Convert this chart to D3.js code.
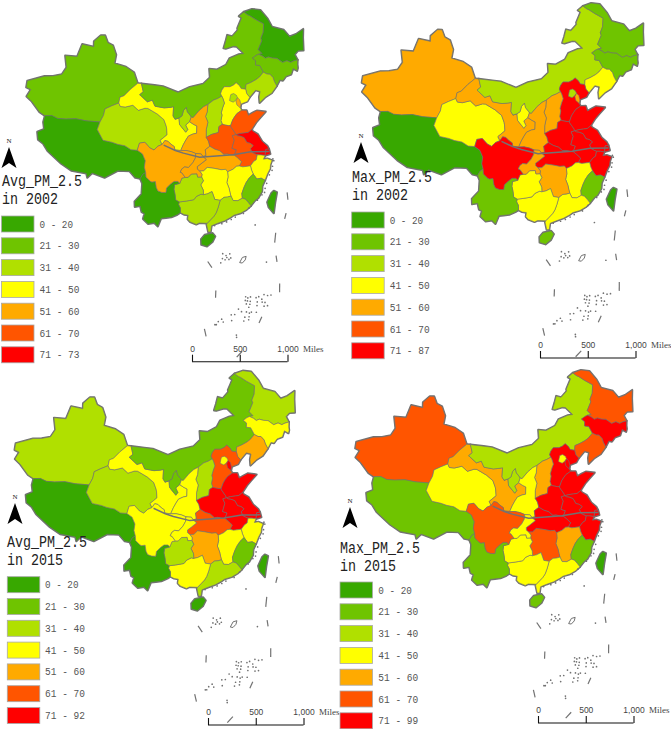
<!DOCTYPE html>
<html>
<head>
<meta charset="utf-8">
<style>
  html, body { margin: 0; padding: 0; background: #fff; }
  svg { display: block; }
</style>
<script src="https://cdn.jsdelivr.net/npm/d3@7"></script>
</head>
<body>
<div id="chart"></div>
<script>
// provinces, same order in every value list below
const provinceNames = ["Xinjiang", "Tibet", "Qinghai", "Gansu", "Ningxia", "InnerMongolia", "Heilongjiang", "Jilin", "Liaoning", "Hebei", "Beijing", "Tianjin", "Shanxi", "Shaanxi", "Henan", "Shandong", "Jiangsu", "Shanghai", "Anhui", "Hubei", "Zhejiang", "Jiangxi", "Hunan", "Fujian", "Guangdong", "Guangxi", "Guizhou", "Yunnan", "Sichuan", "Chongqing", "Hainan", "Taiwan"];

// PM2.5 per province, estimated from the class colour on the map
const avg2002 = [25, 15, 35, 45, 35, 25, 15, 25, 35, 45, 35, 55, 35, 55, 65, 65, 72, 72, 65, 55, 45, 45, 45, 25, 35, 35, 35, 15, 55, 55, 15, 15];
const max2002 = [55, 15, 45, 55, 45, 35, 25, 25, 45, 80, 35, 55, 55, 55, 80, 80, 80, 80, 80, 80, 80, 45, 55, 25, 45, 45, 45, 25, 80, 55, 25, 15];
const avg2015 = [35, 15, 35, 45, 25, 25, 35, 45, 55, 65, 45, 80, 35, 45, 80, 80, 80, 80, 80, 65, 45, 45, 55, 25, 35, 45, 35, 15, 45, 45, 15, 15];
const max2015 = [65, 25, 45, 55, 35, 35, 65, 80, 65, 80, 45, 80, 55, 45, 80, 80, 80, 80, 80, 80, 80, 55, 65, 25, 45, 45, 45, 25, 65, 45, 25, 15];

const classBreaks = [21, 31, 41, 51, 61, 71];
const classColors = ["#38a800", "#6fc400", "#b0e000", "#ffff00", "#ffaa00", "#ff5500", "#ff0000"];
const classLabels = ["0 - 20", "21 - 30", "31 - 40", "41 - 50", "51 - 60", "61 - 70"];
const scaleTicks = [0, 500, 1000];

// province outlines, lon/lat
const provinceRings = {
  Xinjiang: [[87.8,49.2],[88.7,48.2],[90,47.9],[91,46.6],[90.9,45.3],[93.5,45],[95.4,44.3],[96.4,42.7],[95,41.7],[93.8,40.6],[93,40.3],[92.9,39.4],[91.5,38.8],[90.3,38.2],[90.2,37.2],[89.7,36.1],[87,35.9],[85,35.9],[83,35.5],[81.5,35.3],[80.3,35.5],[79,35.2],[77.8,35.5],[75.8,36.7],[74.5,37.2],[74.9,38.4],[73.9,38.5],[73.7,39.5],[76.8,41],[78.5,41.4],[80.2,42],[80.8,43.2],[79.9,44.9],[82.5,45.2],[83,47.2],[85.7,47.2],[85.5,48],[86.8,49.1]],
  Tibet: [[79,35.2],[80.3,35.5],[81.5,35.3],[83,35.5],[85,35.9],[87,35.9],[89.7,36.1],[89.4,34.9],[90.8,33.4],[92.5,33.3],[93.6,33.1],[95,33],[96.2,32.5],[97.4,32.5],[98.4,32],[99,31],[98.9,30],[99.2,29.2],[98.7,28.9],[98.3,28.2],[97.4,28.3],[96.3,29.2],[94.2,29.1],[92,27.8],[89.7,28.2],[89,27.4],[88.7,28],[86,28],[84,28.7],[81.1,30.1],[80,31],[78.9,31.4],[78.4,32.5],[79.5,33.2],[79,34.2]],
  Qinghai: [[89.7,36.1],[90.2,37.2],[90.3,38.2],[91.5,38.8],[92.9,39.4],[93.3,38.9],[94.3,38.9],[95.8,39.3],[97,38.6],[98.3,39],[98.9,39],[100.9,38.2],[102.2,37.4],[102.7,36.4],[102.8,36],[102.9,35.1],[101.6,34.2],[102,33.6],[101.2,33.3],[100.5,32.7],[99.7,33],[98.7,33.8],[97.7,33.6],[97.4,32.5],[96.2,32.5],[95,33],[93.6,33.1],[92.5,33.3],[90.8,33.4],[89.4,34.9]],
  Gansu: [[92.9,39.4],[93,40.3],[93.8,40.6],[95,41.7],[96.4,42.7],[97.2,42.7],[97.7,41.5],[97,41],[98.7,40],[99.7,40.3],[100.3,39.4],[102.2,39.2],[103.4,39.3],[104.1,39.4],[104,38],[104.4,37.5],[105.2,37.7],[105.3,36.7],[106,36],[106.5,35.5],[106.9,35.9],[106.5,36.6],[107.3,37.1],[108,36.7],[108.7,36.4],[108.6,35.3],[107.9,35.2],[107,34.9],[106.5,34.3],[106,33.6],[105.5,32.7],[104.4,32.8],[104.3,33.3],[103.6,33.7],[103.1,34.1],[102.5,34.2],[102,33.6],[101.6,34.2],[102.9,35.1],[102.8,36],[102.7,36.4],[102.2,37.4],[100.9,38.2],[98.9,39],[98.3,39],[97,38.6],[95.8,39.3],[94.3,38.9],[93.3,38.9]],
  Ningxia: [[104.4,37.5],[105.2,37.7],[105.8,38],[106.1,38.8],[106.7,39.3],[106.9,38.6],[107.5,38],[107.65,37.8],[107.3,37.1],[106.5,36.6],[106.9,35.9],[106.5,35.5],[106,36],[105.3,36.7],[105.2,37.7]],
  InnerMongolia: [[116.7,49.8],[117.8,49.5],[119.3,50.3],[119.3,50.6],[120.1,51.4],[120.7,52],[120.1,52.3],[121.5,52.8],[122.3,52.3],[122.8,52.1],[124,51.4],[125.7,50.5],[125.2,49.3],[124.4,48.5],[124.5,48.1],[123.3,46.9],[124,46.2],[123.2,46.2],[122.6,46.1],[121.7,45.8],[122.3,45.3],[122.1,44.7],[123,44.5],[123.5,43.4],[122.5,42.8],[121.7,42.5],[120.5,42.2],[119.4,42],[119.2,41.3],[118.3,41.5],[118,42],[117.4,42.5],[116.8,42.2],[116,42],[114.8,42.1],[114.2,41.6],[113.9,41.1],[114.1,40.7],[113.2,40.4],[112.3,40.2],[111.1,39.6],[110.2,39.3],[109.2,38.7],[108,37.7],[107.65,37.8],[107.5,38],[106.9,38.6],[106.7,39.3],[106.1,38.8],[105.8,38],[105.2,37.7],[104.4,37.5],[104,38],[104.1,39.4],[103.4,39.3],[102.2,39.2],[100.3,39.4],[99.7,40.3],[98.7,40],[97,41],[97.7,41.5],[97.2,42.7],[100,42.6],[101.8,42.5],[105,41.6],[107.5,42.4],[110.4,42.8],[111.9,43.7],[111.9,45],[113.6,44.8],[115.7,45.4],[116.6,46.3],[118.8,46.7],[119.9,46.7],[118.5,47.9],[117.8,48],[116,47.8],[115.5,47.9],[116.1,48.8]],
  Heilongjiang: [[121.5,52.8],[123.6,53],[125.6,52.6],[126.9,51.1],[127.5,49.8],[130,48.9],[130.9,47.7],[132.5,47.8],[134.4,48.2],[133.8,47],[133.1,45.1],[131.9,45.3],[131,44.9],[131.3,44],[130.4,44],[129.7,43.9],[129,44.3],[128,44.2],[127.5,44.6],[127,45],[126,45.2],[125.2,45.5],[124.5,45.4],[124,45.8],[123.2,46.2],[124,46.2],[123.3,46.9],[124.5,48.1],[124.4,48.5],[125.2,49.3],[125.7,50.5],[124,51.4],[122.8,52.1],[122.3,52.3]],
  Jilin: [[123.2,46.2],[124,45.8],[124.5,45.4],[125.2,45.5],[126,45.2],[127,45],[127.5,44.6],[128,44.2],[129,44.3],[129.7,43.9],[130.4,44],[131.3,44],[131,43.3],[130.9,42.8],[130.6,42.4],[129.9,42.9],[129.2,42.1],[128,42],[127.2,41.5],[126.6,41.7],[125.7,40.9],[125.4,41.7],[125.3,42.3],[124.8,42.9],[124.2,43],[123.5,43.4],[123,44.5],[122.1,44.7],[122.3,45.3],[121.7,45.8],[122.6,46.1]],
  Liaoning: [[123.5,43.4],[124.2,43],[124.8,42.9],[125.3,42.3],[125.4,41.7],[125.7,40.9],[124.4,40],[123,39.6],[121.6,38.9],[121.7,39.8],[122.1,40.6],[121.2,40.9],[119.8,40],[119.3,40.6],[119.2,41.3],[119.4,42],[120.5,42.2],[121.7,42.5],[122.5,42.8]],
  Hebei: [[119.8,40],[119.2,39.4],[118,39.2],[117.8,39.1],[117.6,38.6],[117.8,38.2],[116.8,37.8],[116.3,37.4],[115.8,36.9],[115.3,36.1],[114.9,36.1],[114,36.3],[113.7,36.4],[113.5,37],[113.8,37.8],[113.7,38.2],[114.1,39],[114.5,39.6],[114.3,40.3],[114.1,40.7],[113.9,41.1],[114.2,41.6],[114.8,42.1],[116,42],[116.8,42.2],[117.4,42.5],[118,42],[118.3,41.5],[119.2,41.3],[119.3,40.6]],
  Beijing: [[115.6,39.9],[116.3,39.6],[116.8,39.8],[117.3,40.2],[117.1,40.6],[116.6,40.9],[116,40.8],[115.8,40.4]],
  Tianjin: [[116.9,39.7],[117.3,40.2],[117.7,39.8],[117.8,39.1],[117.6,38.6],[117,39.1]],
  Shanxi: [[114.1,40.7],[114.3,40.3],[114.5,39.6],[114.1,39],[113.7,38.2],[113.8,37.8],[113.5,37],[113.7,36.4],[113,36.1],[112.8,35.2],[111.5,35],[110.4,34.6],[110.5,35.8],[110.9,36.9],[110.5,37.8],[110.9,38.5],[111.1,39.6],[112.3,40.2],[113.2,40.4]],
  Shaanxi: [[111.1,39.6],[110.9,38.5],[110.5,37.8],[110.9,36.9],[110.5,35.8],[110.4,34.6],[110.8,34],[111,33.2],[110.1,32.7],[110.2,31.8],[109.6,31.7],[109.3,32.1],[108.3,32.2],[107.5,32.5],[106.5,32.7],[105.5,32.7],[106,33.6],[106.5,34.3],[107,34.9],[107.9,35.2],[108.6,35.3],[108.7,36.4],[108,36.7],[107.3,37.1],[107.65,37.8],[108,37.7],[109.2,38.7],[110.2,39.3]],
  Henan: [[110.4,34.6],[111.5,35],[112.8,35.2],[113,36.1],[113.7,36.4],[114,36.3],[114.9,36.1],[115.3,36.1],[115.3,35.9],[116,34.9],[116.1,34.6],[115.4,34.5],[115.7,33.8],[115.3,33],[115.1,32.6],[115.9,32.3],[115.4,31.5],[114.8,31.6],[114.1,31.8],[113.5,31.8],[112.8,32.4],[111.9,32.7],[111,33.2],[110.8,34]],
  Shandong: [[115.3,36.1],[115.8,36.9],[116.3,37.4],[116.8,37.8],[117.8,38.2],[118.8,38.1],[119,37.3],[120,37.6],[120.8,37.8],[122.5,37.4],[121.2,36.6],[120.3,36],[119.3,35.1],[118.5,34.7],[117.8,34.7],[116.9,34.7],[116.1,34.6],[116,34.9],[115.3,35.9]],
  Jiangsu: [[116.1,34.6],[116.9,34.7],[117.8,34.7],[118.5,34.7],[119.3,35.1],[119.4,34.8],[120.3,34.2],[120.9,33],[121.7,32.2],[121.9,31.7],[121.3,31.7],[121,30.8],[120.3,31],[119.6,31.1],[119.2,31.3],[118.7,31.6],[118.5,32.2],[119.1,32.6],[118.6,33],[118,33.2],[117.6,34],[116.9,34.3],[116.4,34.4]],
  Shanghai: [[121.3,31.7],[121.9,31.7],[122,30.9],[121,30.8]],
  Anhui: [[116.1,34.6],[116.4,34.4],[116.9,34.3],[117.6,34],[118,33.2],[118.6,33],[119.1,32.6],[118.5,32.2],[118.7,31.6],[119.2,31.3],[119.6,31.1],[119.3,30.4],[118.8,30.2],[118.1,29.6],[117.3,29.6],[116.7,29.6],[116.1,29.8],[116.6,30.4],[115.9,31.1],[115.4,31.5],[115.9,32.3],[115.1,32.6],[115.3,33],[115.7,33.8],[115.4,34.5]],
  Hubei: [[115.4,31.5],[115.9,31.1],[116.6,30.4],[116.1,29.8],[115.6,29.8],[114.9,29.4],[113.9,29.1],[113.6,29.5],[112.8,29.5],[111.5,29.8],[110.3,30],[109.6,29.5],[108.9,29.5],[108.5,29.8],[108.5,30.2],[109.2,30.6],[110.2,31.2],[109.6,31.7],[110.2,31.8],[110.1,32.7],[111,33.2],[111.9,32.7],[112.8,32.4],[113.5,31.8],[114.1,31.8],[114.8,31.6]],
  Zhejiang: [[121,30.8],[120.3,31],[119.6,31.1],[119.3,30.4],[118.8,30.2],[118.1,29.6],[118.2,28.9],[118.4,28.3],[118.9,27.5],[119.7,27.5],[120.3,27.1],[120.9,28],[121.5,28.7],[121.7,29.3],[122.1,29.9],[121.3,30.3],[120.6,30.3]],
  Jiangxi: [[116.1,29.8],[116.7,29.6],[117.3,29.6],[118.1,29.6],[118.2,28.9],[118.4,28.3],[117.6,27.8],[117,27.2],[116.5,26.5],[116,25.6],[116,24.9],[115.2,24.6],[114.4,24.7],[114.1,25.4],[114,25.9],[113.9,26.6],[113.6,27.5],[113.9,28.3],[113.9,29.1],[114.9,29.4],[115.6,29.8]],
  Hunan: [[108.9,29.5],[109.6,29.5],[110.3,30],[111.5,29.8],[112.8,29.5],[113.6,29.5],[113.9,29.1],[113.9,28.3],[113.6,27.5],[113.9,26.6],[114,25.9],[114.1,25.4],[113.5,25.3],[112.9,25.3],[112.2,24.9],[111.3,25.1],[110.9,26.3],[110.1,26],[109.4,25.9],[109.4,26.6],[109,27.4],[109.5,28],[109.2,28.6],[109.3,29]],
  Fujian: [[118.4,28.3],[118.9,27.5],[119.7,27.5],[120.3,27.1],[119.7,26.3],[119.5,25.5],[118.7,24.6],[118.1,24.3],[117.3,23.6],[116.9,24.2],[116.5,24.7],[116,24.9],[116,25.6],[116.5,26.5],[117,27.2],[117.6,27.8]],
  Guangdong: [[117.3,23.6],[116.5,23.1],[115.5,22.7],[114.3,22.5],[113.7,22.2],[112.7,21.8],[111.5,21.5],[110.5,21.2],[110.3,20.3],[109.9,20.3],[109.7,21.4],[109.8,21.6],[110.4,22.1],[111,22.6],[111.4,23.1],[111.8,23.9],[112.2,24.9],[112.9,25.3],[113.5,25.3],[114.1,25.4],[114.4,24.7],[115.2,24.6],[116,24.9],[116.5,24.7],[116.9,24.2]],
  Guangxi: [[109.8,21.6],[108.5,21.7],[108,21.5],[107,21.9],[106.6,22.3],[106.7,22.9],[106,23],[105.4,23.3],[105.4,24],[105.1,24.5],[105.2,24.9],[106.2,25],[107,25.1],[107.7,25.2],[108.2,25.7],[109,26],[109.4,25.9],[110.1,26],[110.9,26.3],[111.3,25.1],[112.2,24.9],[111.8,23.9],[111.4,23.1],[111,22.6],[110.4,22.1]],
  Guizhou: [[109.4,25.9],[109.4,26.6],[109,27.4],[109.5,28],[109.2,28.6],[108.5,28.6],[108.4,29.1],[107.4,29.1],[106.8,28.6],[106.3,28.6],[105.7,28.5],[105.3,27.7],[104.4,27.5],[104.3,26.8],[104.5,26],[104.6,25.2],[105.2,24.9],[106.2,25],[107,25.1],[107.7,25.2],[108.2,25.7],[109,26]],
  Yunnan: [[105.2,24.9],[105.1,24.5],[105.4,24],[105.4,23.3],[104.9,23],[103.9,22.6],[103,22.5],[102.2,22.4],[101.7,21.2],[101.1,21.7],[100.1,21.5],[99.2,22.2],[99.4,23],[98.9,23.2],[98.6,24.1],[97.7,23.9],[97.6,24.7],[98.7,25.9],[98.7,27.5],[98.3,28.2],[98.7,28.9],[99.2,29.2],[99.3,28.5],[100.1,27.9],[100.4,27.8],[101,27.9],[101.2,27],[101.5,26.5],[102.2,26.3],[102.9,26.3],[103,27],[103.7,27.6],[104.3,28],[105,28],[105.3,27.7],[104.4,27.5],[104.3,26.8],[104.5,26],[104.6,25.2]],
  Sichuan: [[99.2,29.2],[98.9,30],[99,31],[98.4,32],[97.4,32.5],[97.7,33.6],[98.7,33.8],[99.7,33],[100.5,32.7],[101.2,33.3],[102,33.6],[102.5,34.2],[103.1,34.1],[103.6,33.7],[104.3,33.3],[104.4,32.8],[105.5,32.7],[106.5,32.7],[107.5,32.5],[108.3,32.2],[108.2,31.5],[107.7,30.8],[106.9,30.1],[106.2,30.2],[105.7,29.9],[105.4,29.4],[105.7,29.3],[106.3,28.6],[105.7,28.5],[105.3,27.7],[105,28],[104.3,28],[103.7,27.6],[103,27],[102.9,26.3],[102.2,26.3],[101.5,26.5],[101.2,27],[101,27.9],[100.4,27.8],[100.1,27.9],[99.3,28.5]],
  Chongqing: [[108.3,32.2],[109.3,32.1],[109.6,31.7],[110.2,31.2],[109.2,30.6],[108.5,30.2],[108.5,29.8],[108.9,29.5],[109.3,29],[109.2,28.6],[108.5,28.6],[108.4,29.1],[107.4,29.1],[106.8,28.6],[106.3,28.6],[105.7,29.3],[105.4,29.4],[105.7,29.9],[106.2,30.2],[106.9,30.1],[107.7,30.8],[108.2,31.5]],
  Hainan: [[110.6,20.1],[111,19.6],[110.5,18.8],[109.6,18.2],[108.7,18.5],[108.7,19.3],[109.3,19.9]],
  Taiwan: [[121.5,25.3],[122,25],[121.4,23.5],[120.9,22],[120.2,23],[120.1,23.8],[121,25]]
};

const riverLine = [[102.3,33.5],[104.5,32.7],[106,32.3],[109,31.6],[115.2,31.6],[118.5,31.7],[121.8,31.3]];

const seaDashes = [
  [[109.6,16],[110.2,15.1]], [[110.6,11.8],[110.5,10.8]], [[108.7,6.6],[108.9,5.6]],
  [[116.4,6.8],[116.9,7.6]], [[119.9,10.6],[120.1,11.8]], [[120.2,15.8],[120.2,14.9]],
  [[120.7,19.1],[120.3,17.7]], [[122.9,21.7],[122.5,20.9]], [[123.7,24.7],[123.6,23.6]],
  [[112.9,2.6],[113.7,3.3]]
];
const seaRing = [[114.5,15.5],[115,16.2],[115.6,16.3],[115.4,15.8],[114.9,15.4]];
const seaDots = [
  [117.6,20.7],[118.6,15.1],[113.1,5.2],[113.1,5.5],
  [112,17],[112.5,16.7],[113.1,16.9],[111.9,16.3],[112.3,16.1],[112.6,16.4],[112.9,16.1],[113.2,16.3],[111.6,15.7],
  [114.9,10.6],[115.2,10.4],[115.6,10.5],[114.8,10.1],[115.1,10],[115.5,9.9],[115.4,9.5],[114.9,9.6],[115.2,9.1],[116.4,10.3],[116.8,10.4],[117.2,10],[117.6,10.6],[118.1,10.4],[118.6,10.4],[116.5,9.7],[117.2,9.6],[117.6,9.5],[116.4,9.2],[117.4,9],[117.9,9],[113.7,9],[114.1,8.6],[113.1,8.3],[112.6,8.3],[114.8,8.5],[115.2,8.3],[115.5,8.4],[116.2,8.3],[114.5,7.8],[115.1,7.8],[115,7.4],[114.3,7.3],[112.6,7.5],[111.2,7.8],[110.7,7.5],[110.4,7.1],[111.4,7.4],[110.2,7.1],
  [122.3,30.1],[122.4,29.8],[122,29],[121.8,28.4],[121.2,27.8],[120.5,26.6],[120.1,25.9],[119.9,25.3],[119.4,25],[118.5,24.3],
  [116.9,23.3],[115.9,22.6],[114.5,22.2],[113.8,21.9],[113,21.6],[112.2,21.4],[111,21.2]
];

// layout of the four panels
const panels = [
  { title: "Avg_PM_2.5", year: "in 2002", values: avg2002, top: "71 - 73", cx: 178, cy: 129, scale: 370, titleX: 2, titleY: 186, legendX: 1.5, legendY: 216, labelX: 39.5, arrowX: 9, arrowY: 147, barX: 192, barY: 361.7 },
  { title: "Max_PM_2.5", year: "in 2002", values: max2002, top: "71 - 87", cx: 516, cy: 125, scale: 376, titleX: 352, titleY: 182, legendX: 351.7, legendY: 212, labelX: 389.7, arrowX: 361, arrowY: 142, barX: 540, barY: 358 },
  { title: "Avg_PM_2.5", year: "in 2015", values: avg2015, top: "71 - 92", cx: 168, cy: 492, scale: 374, titleX: 7, titleY: 547, legendX: 7.3, legendY: 576.7, labelX: 45, arrowX: 15, arrowY: 503, barX: 208, barY: 725 },
  { title: "Max_PM_2.5", year: "in 2015", values: max2015, top: "71 - 99", cx: 507, cy: 490, scale: 370, titleX: 340, titleY: 553, legendX: 340, legendY: 582, labelX: 378.3, arrowX: 350, arrowY: 507, barX: 538, barY: 723 }
];

const width = 671;
const height = 729;
const lineGrey = "#727272";
const stretchY = 1.03;

const svg = d3.select("#chart").append("svg").attr("width", width).attr("height", height);
const color = d3.scaleThreshold().domain(classBreaks).range(classColors);

function closeRing(ring) {
  return ring.concat([ring[0]]);
}

const provinceFeatures = provinceNames.map((name, i) => ({
  type: "Feature",
  index: i,
  geometry: { type: "Polygon", coordinates: [closeRing(provinceRings[name])] }
}));

panels.forEach((p) => {
  const g = svg.append("g");

  const projection = d3.geoConicConformal()
    .rotate([-105, 0])
    .center([0, 36])
    .parallels([25, 47])
    .scale(p.scale)
    .translate([p.cx, p.cy]);

  // planar stream so ring winding doesn't matter
  const planar = d3.geoTransform({
    point(lon, lat) {
      const xy = projection([lon, lat]);
      this.stream.point(xy[0], p.cy + (xy[1] - p.cy) * stretchY);
    }
  });
  const path = d3.geoPath(planar).pointRadius(0.85);

  // thick outline underneath, only the outer half stays visible
  g.selectAll("path.outline")
    .data(provinceFeatures)
    .join("path")
    .attr("class", "outline")
    .attr("d", path)
    .attr("fill", lineGrey)
    .attr("stroke", lineGrey)
    .attr("stroke-width", 2.2)
    .attr("stroke-linejoin", "round");

  g.selectAll("path.province")
    .data(provinceFeatures)
    .join("path")
    .attr("class", "province")
    .attr("d", path)
    .attr("fill", (d) => color(p.values[d.index]))
    .attr("stroke", lineGrey)
    .attr("stroke-width", 0.6)
    .attr("stroke-linejoin", "round");

  g.append("path")
    .datum({ type: "LineString", coordinates: riverLine })
    .attr("d", path)
    .attr("fill", "none")
    .attr("stroke", lineGrey)
    .attr("stroke-width", 1.5);

  g.selectAll("path.dash")
    .data(seaDashes)
    .join("path")
    .attr("class", "dash")
    .attr("d", (d) => path({ type: "LineString", coordinates: d }))
    .attr("fill", "none")
    .attr("stroke", lineGrey)
    .attr("stroke-width", 1.2);

  g.append("path")
    .datum({ type: "Polygon", coordinates: [closeRing(seaRing)] })
    .attr("d", path)
    .attr("fill", "none")
    .attr("stroke", lineGrey)
    .attr("stroke-width", 1);

  g.append("path")
    .datum({ type: "MultiPoint", coordinates: seaDots })
    .attr("d", path)
    .attr("fill", lineGrey);

  // north arrow
  const arrow = d3.path();
  arrow.moveTo(p.arrowX, p.arrowY);
  arrow.lineTo(p.arrowX + 7.5, p.arrowY + 21);
  arrow.lineTo(p.arrowX, p.arrowY + 16);
  arrow.lineTo(p.arrowX - 7.5, p.arrowY + 21);
  arrow.closePath();
  g.append("path").attr("d", arrow.toString()).attr("fill", "#000");
  g.append("text")
    .attr("x", p.arrowX)
    .attr("y", p.arrowY - 4)
    .attr("text-anchor", "middle")
    .attr("font-family", "Liberation Serif")
    .attr("font-size", 7)
    .attr("fill", "#222")
    .text("N");

  // title
  [[p.title, p.titleY, 80], [p.year, p.titleY + 18.3, 56]].forEach(([txt, y, len]) => {
    g.append("text")
      .attr("x", p.titleX)
      .attr("y", y)
      .attr("textLength", len)
      .attr("lengthAdjust", "spacingAndGlyphs")
      .attr("font-family", "Liberation Mono")
      .attr("font-size", 16)
      .attr("fill", "#222")
      .text(txt);
  });

  // legend
  const labels = classLabels.concat([p.top]);
  const legendRow = d3.scaleBand()
    .domain(d3.range(labels.length))
    .range([p.legendY, p.legendY + 21.8 * labels.length]);

  g.selectAll("rect.swatch")
    .data(labels)
    .join("rect")
    .attr("class", "swatch")
    .attr("x", p.legendX)
    .attr("y", (d, i) => legendRow(i))
    .attr("width", 32.5)
    .attr("height", 16)
    .attr("fill", (d, i) => classColors[i])
    .attr("stroke", "#a8a8a8")
    .attr("stroke-width", 0.8);

  g.selectAll("text.label")
    .data(labels)
    .join("text")
    .attr("class", "label")
    .attr("x", p.labelX)
    .attr("y", (d, i) => legendRow(i) + 11.5)
    .attr("textLength", (d) => (d.length > 6 ? 40 : 33.5))
    .attr("lengthAdjust", "spacingAndGlyphs")
    .attr("font-family", "Liberation Mono")
    .attr("font-size", 11)
    .attr("fill", "#555")
    .text((d) => d);

  // scale bar
  const barScale = d3.scaleLinear().domain([0, 1000]).range([p.barX, p.barX + 95.5]);
  const axis = d3.axisTop(barScale)
    .tickValues(scaleTicks)
    .tickSize(7)
    .tickPadding(3)
    .tickFormat(d3.format(","));
  const bar = g.append("g").attr("transform", `translate(0,${p.barY})`).call(axis);
  bar.select(".domain").attr("stroke", "#111").attr("stroke-width", 1.1).attr("d", `M${p.barX},0H${p.barX + 95.5}`);
  bar.selectAll(".tick line").attr("stroke", "#111").attr("stroke-width", 1.1);
  bar.selectAll(".tick text")
    .attr("font-family", "Liberation Sans")
    .attr("font-size", 8.5)
    .attr("fill", "#444");
  g.append("text")
    .attr("x", p.barX + 95.5 + 15.5)
    .attr("y", p.barY - 10)
    .attr("font-family", "Liberation Serif")
    .attr("font-size", 9)
    .attr("fill", "#444")
    .text("Miles");
});
</script>
</body>
</html>
